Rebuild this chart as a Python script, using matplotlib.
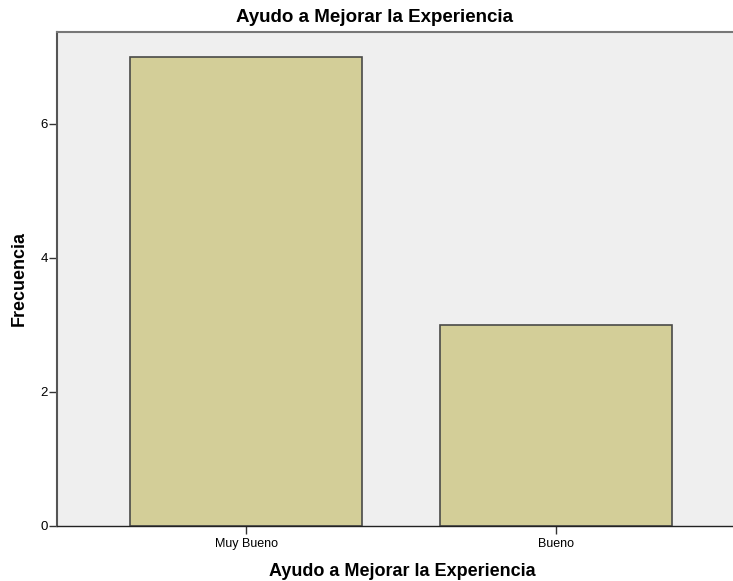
import matplotlib.pyplot as plt

categories = ['Muy Bueno', 'Bueno']
counts = [7, 3]
yticks = [0, 2, 4, 6]

plt.rcParams['font.family'] = ['Liberation Sans', 'DejaVu Sans']

fig = plt.figure(figsize=(7.33, 5.81), dpi=100)
# axes runs a little past the right edge of the figure
ax = fig.add_axes([57 / 733, 55 / 581, 688 / 733, 494 / 581])
ax.set_facecolor('#efefef')

x = range(len(categories))
ax.bar(x, counts, width=0.748, color='#d3ce98', edgecolor='#4a4a48', linewidth=1.2)

ax.set_xlim(-0.61, 1.61)
ax.set_ylim(0, 7.37)
ax.set_xticks(list(x))
ax.set_xticklabels(categories, fontsize=9)
ax.set_yticks(yticks)
ax.set_yticklabels([str(t) for t in yticks], fontsize=9.5)
ax.tick_params(axis='both', direction='out', length=5.5, width=1, color='#333333', pad=1)
ax.tick_params(axis='x', pad=3)

ax.spines['left'].set_color('#555555')
ax.spines['left'].set_linewidth(1.5)
ax.spines['top'].set_color('#777777')
ax.spines['top'].set_linewidth(1.5)
ax.spines['bottom'].set_color('#222222')
ax.spines['bottom'].set_linewidth(1)
ax.spines['right'].set_visible(False)

fig.text(374 / 733, 1 - 18 / 581, 'Ayudo a Mejorar la Experiencia', ha='center', va='center',
         fontsize=13.5, fontweight='bold')
fig.text(402 / 733, 1 - 572 / 581, 'Ayudo a Mejorar la Experiencia', ha='center', va='center',
         fontsize=13, fontweight='bold')
fig.text(19 / 733, 1 - 279 / 581, 'Frecuencia', ha='center', va='center', rotation=90,
         fontsize=12.9, fontweight='bold')

fig.savefig('out.png', dpi=100)
